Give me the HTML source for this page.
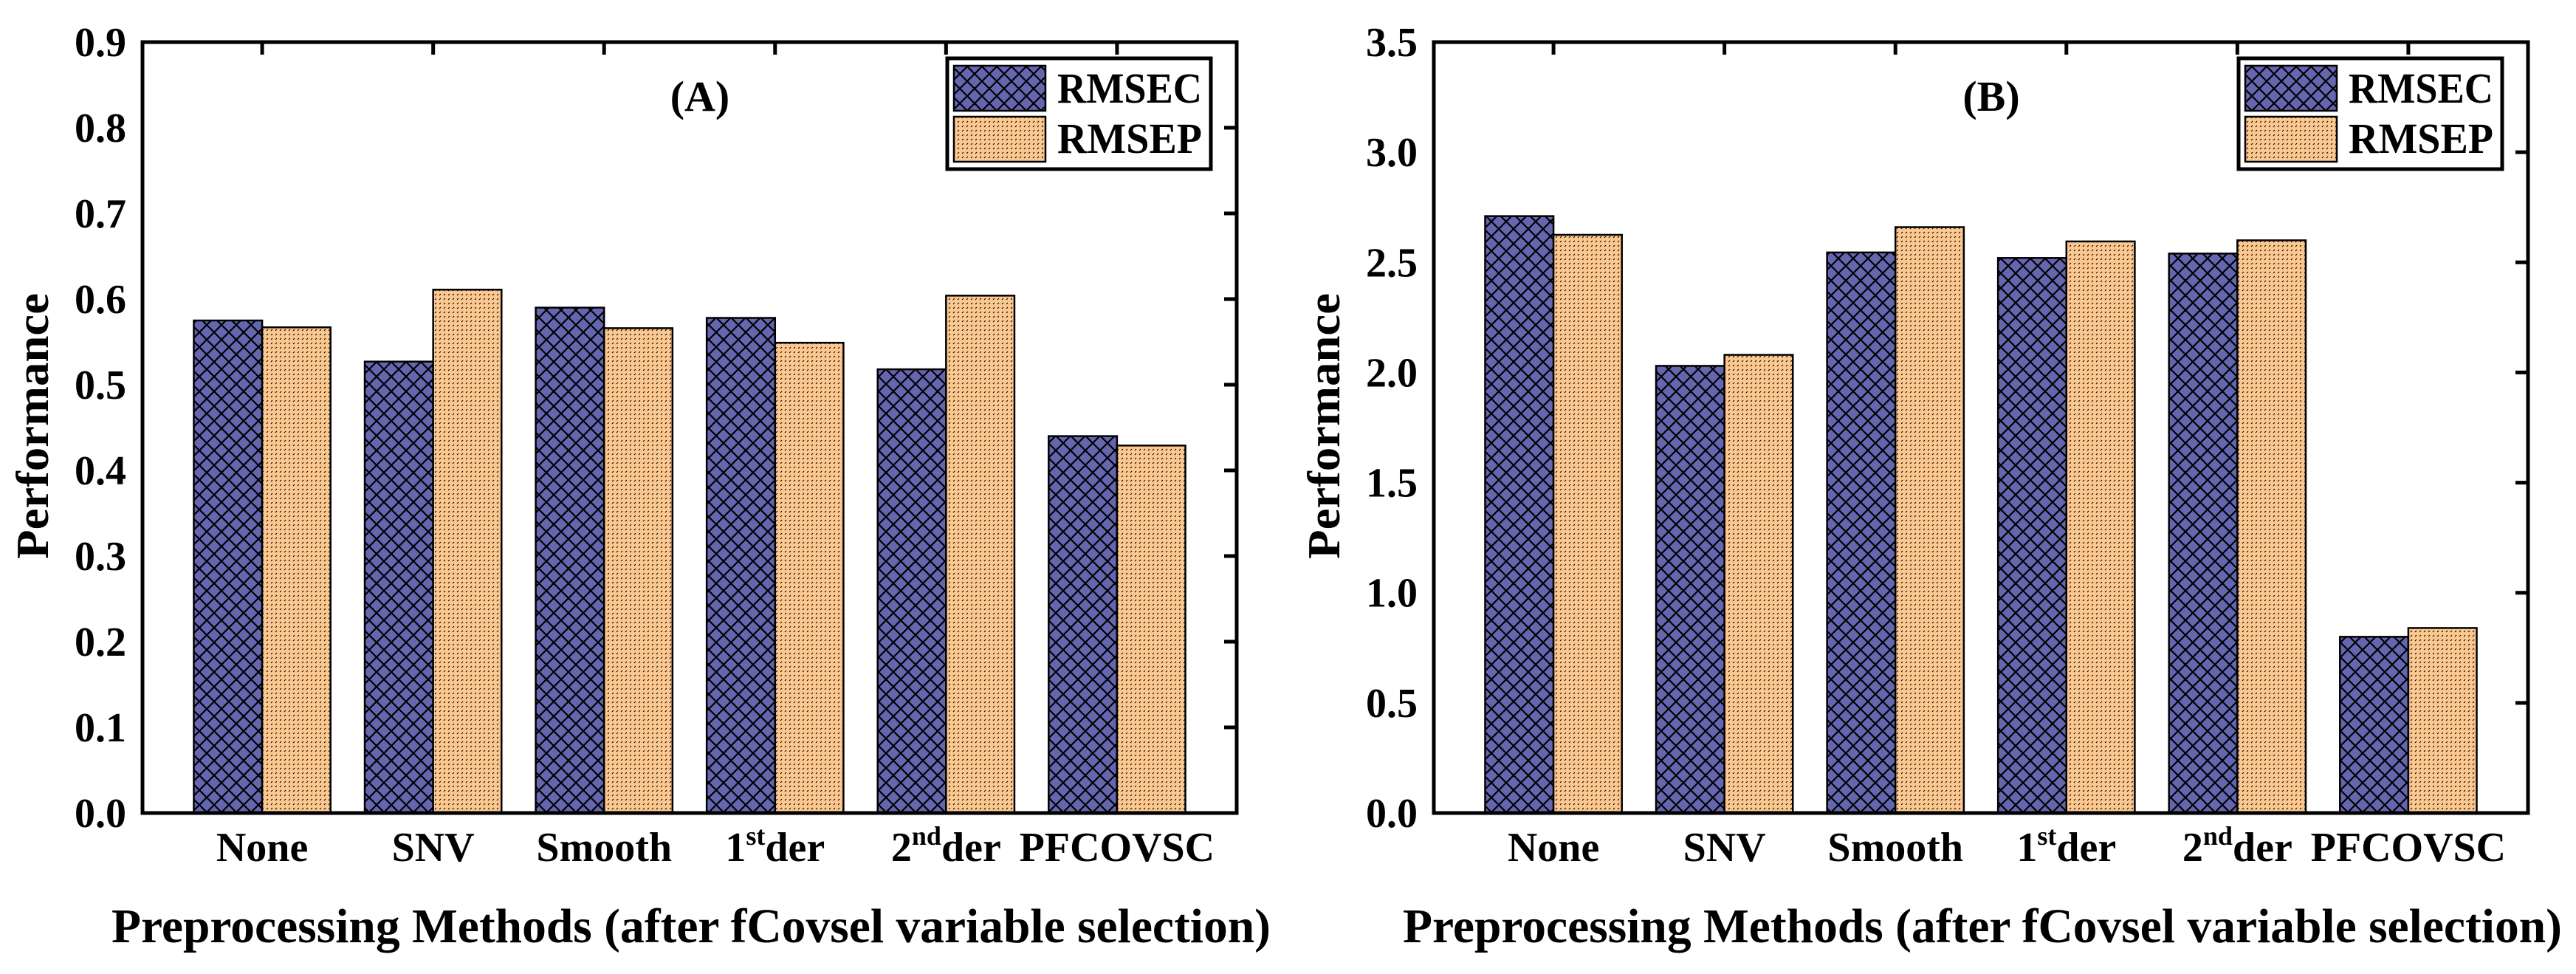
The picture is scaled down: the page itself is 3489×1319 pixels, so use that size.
<!DOCTYPE html>
<html><head><meta charset="utf-8"><style>
html,body{margin:0;padding:0;background:#fff;}
svg{display:block;}
svg text{font-family:"Liberation Serif","Times New Roman",serif;font-weight:bold;}
</style></head><body>
<svg id="chart" width="3489" height="1319" viewBox="0 0 3489 1319" xmlns="http://www.w3.org/2000/svg" font-family="Liberation Serif, serif" font-weight="bold">
<defs>
<pattern id="hatchBlue" patternUnits="userSpaceOnUse" width="20" height="20">
<rect width="20" height="20" fill="#6466b0"/>
<path d="M0,0 L20,20 M20,0 L0,20 M-2,18 L2,22 M18,-2 L22,2" stroke="#000" stroke-width="2.2"/>
</pattern>
<pattern id="dotOrange" patternUnits="userSpaceOnUse" width="6" height="6">
<rect width="6" height="6" fill="#fcc890"/>
<path d="M1,4 L3,2" stroke="#000" stroke-width="1.1"/>
</pattern>
</defs>
</svg>
<script>
const categories = ["None","SNV","Smooth","1st der","2nd der","PFCOVSC"];
const seriesNames = ["RMSEC","RMSEP"];
const rmsecA = [0.575,0.527,0.590,0.578,0.518,0.440];
const rmsepA = [0.567,0.611,0.566,0.549,0.604,0.429];
const rmsecB = [2.71,2.03,2.545,2.52,2.54,0.80];
const rmsepB = [2.625,2.08,2.66,2.595,2.60,0.84];
const ticksA = ["0.0","0.1","0.2","0.3","0.4","0.5","0.6","0.7","0.8","0.9"];
const ticksB = ["0.0","0.5","1.0","1.5","2.0","2.5","3.0","3.5"];

const NS = "http://www.w3.org/2000/svg";
const svg = document.getElementById('chart');
const FONT = '"Liberation Serif", "Times New Roman", serif';
function mk(tag, attrs, parent){
  const e = document.createElementNS(NS, tag);
  for (const k in attrs) e.setAttribute(k, attrs[k]);
  if (tag === 'text') { e.setAttribute('font-family', FONT); e.setAttribute('font-weight', 'bold'); }
  (parent||svg).appendChild(e);
  return e;
}
const TOP = 57, BOT = 1101, W = 1482;

function panel(L, label, key, rmsec, rmsep, ticks, ymax){
  const g = mk('g', {});
  
  
  const R = L + W;
  const x = v => L + (v - 0.3) / 6.4 * W;
  const y = v => BOT - v / ymax * (BOT - TOP);
  const bw = 0.4 / 6.4 * W;
  for (let i = 0; i < categories.length; i++) {
    const cx = x(i + 1);
    const b1 = mk('rect', {x: cx - bw, y: y(rmsec[i]), width: bw, height: BOT - y(rmsec[i]), fill: 'url(#hatchBlue)', stroke: '#000', 'stroke-width': 2.5}, g);
    
    
    const b2 = mk('rect', {x: cx, y: y(rmsep[i]), width: bw, height: BOT - y(rmsep[i]), fill: 'url(#dotOrange)', stroke: '#000', 'stroke-width': 2.5}, g);
    
    
    mk('line', {x1: cx, y1: TOP, x2: cx, y2: TOP + 17, stroke: '#000', 'stroke-width': 5}, g);
    const t = mk('text', {x: cx, y: 1166, 'font-size': 56, 'text-anchor': 'middle'}, g);
    
    
    const c = categories[i];
    if (c === '1st der' || c === '2nd der') {
      const parts = c.split(' ');
      const num = parts[0].slice(0, 1), sup = parts[0].slice(1);
      t.appendChild(document.createTextNode(num));
      const s = mk('tspan', {'font-size': 36, dy: -22}, t);
      s.textContent = sup;
      const d = mk('tspan', {dy: 22}, t);
      d.textContent = 'der';
    } else t.textContent = c;
  }
  ticks.forEach(tk => {
    const yy = y(parseFloat(tk));
    mk('line', {x1: R - 17, y1: yy, x2: R, y2: yy, stroke: '#000', 'stroke-width': 5}, g);
    const t = mk('text', {x: L - 22, y: yy + 19, 'font-size': 56, 'text-anchor': 'end'}, g);
    
    
    t.textContent = tk;
  });
  const f = mk('rect', {x: L, y: TOP, width: W, height: BOT - TOP, fill: 'none', stroke: '#000', 'stroke-width': 5}, g);
  
  
  const pl = mk('text', {x: L + 755, y: 150, 'font-size': 58, 'text-anchor': 'middle'}, g);
  
  
  pl.textContent = label;
  const yt = mk('text', {x: 0, y: 0, 'font-size': 62, 'text-anchor': 'middle', transform: `translate(${L - 128},577) rotate(-90)`, textLength: 360, lengthAdjust: 'spacingAndGlyphs'}, g);
  
  
  yt.textContent = 'Performance';
  const xt = mk('text', {x: L - 42, y: 1276, 'font-size': 66, textLength: 1570, lengthAdjust: 'spacingAndGlyphs'}, g);
  
  
  xt.textContent = 'Preprocessing Methods (after fCovsel variable selection)';
  const lg = mk('g', {}, g);
  
  
  const lx = L + 1090;
  mk('rect', {x: lx, y: 79, width: 357, height: 150, fill: '#fff', stroke: '#000', 'stroke-width': 5}, lg);
  const fills = ['url(#hatchBlue)', 'url(#dotOrange)'];
  seriesNames.forEach((n, k) => {
    const e = mk('g', {}, lg);
    
    
    mk('rect', {x: lx + 9, y: 89 + k * 69, width: 124, height: 61, fill: fills[k], stroke: '#000', 'stroke-width': 2.5}, e);
    const t = mk('text', {x: lx + 149, y: 139 + k * 68, 'font-size': 58, textLength: 196, lengthAdjust: 'spacingAndGlyphs'}, e);
    t.textContent = n;
  });
}
panel(193, '(A)', 'a', rmsecA, rmsepA, ticksA, 0.9);
panel(1942, '(B)', 'b', rmsecB, rmsepB, ticksB, 3.5);
</script>
</body></html>
